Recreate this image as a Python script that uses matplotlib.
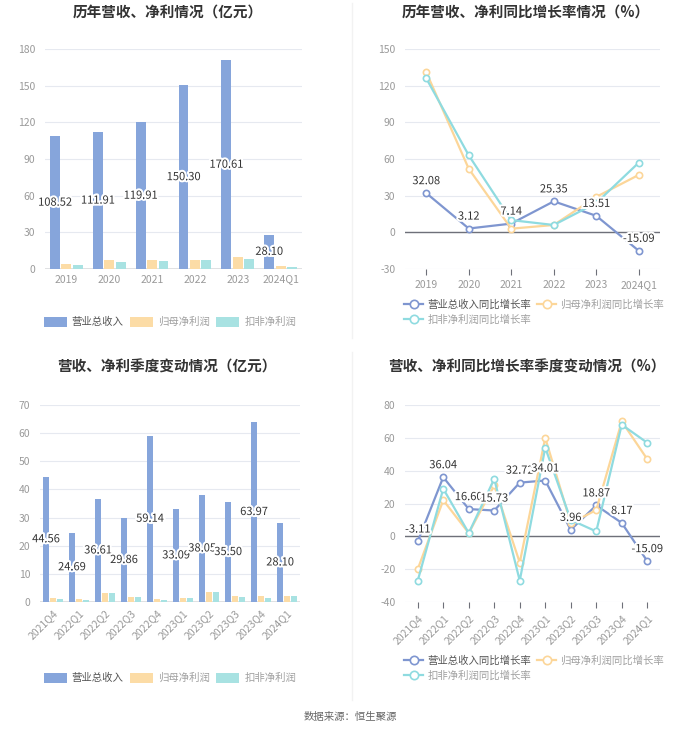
import numpy as np
import matplotlib
matplotlib.use('Agg')
import matplotlib.pyplot as plt
import matplotlib.patheffects as pe
from matplotlib.lines import Line2D
from matplotlib.patches import Patch

plt.rcParams['font.family'] = ['Noto Sans CJK SC', 'DejaVu Sans']
plt.rcParams['axes.unicode_minus'] = False

# ---- data ----
years = ['2019', '2020', '2021', '2022', '2023', '2024Q1']
rev_y = [108.52, 111.91, 119.91, 150.30, 170.61, 28.10]
np_y = [4.5, 7.0, 7.3, 7.7, 9.8, 2.2]
npd_y = [3.6, 5.9, 6.5, 7.2, 8.5, 1.9]

rev_yg = [32.08, 3.12, 7.14, 25.35, 13.51, -15.09]
np_yg = [131, 52, 3, 6, 29, 47]
npd_yg = [126, 63, 10, 6, 24, 57]

quarters = ['2021Q4', '2022Q1', '2022Q2', '2022Q3', '2022Q4',
            '2023Q1', '2023Q2', '2023Q3', '2023Q4', '2024Q1']
rev_q = [44.56, 24.69, 36.61, 29.86, 59.14, 33.09, 38.05, 35.50, 63.97, 28.10]
np_q = [1.4, 0.9, 3.3, 1.9, 1.1, 1.4, 3.7, 2.1, 2.2, 2.2]
npd_q = [1.1, 0.8, 3.3, 1.8, 0.7, 1.3, 3.7, 1.8, 1.3, 2.1]

rev_qg = [-3.11, 36.04, 16.60, 15.73, 32.72, 34.01, 3.96, 18.87, 8.17, -15.09]
np_qg = [-20, 22, 2, 31, -16, 60, 8, 16, 70, 47]
npd_qg = [-27, 29, 2, 35, -27, 54, 10, 3, 68, 57]

bar_names = ['营业总收入', '归母净利润', '扣非净利润']
line_names = ['营业总收入同比增长率', '归母净利润同比增长率', '扣非净利润同比增长率']

C_REV = '#86a5db'; C_NP = '#fcdca6'; C_NPD = '#a8e2e2'
L_REV = '#7f96d0'; L_NP = '#fcd699'; L_NPD = '#8fdbe0'
TXT = '#333333'; TICK = '#9a9a9a'; GRID = '#e6e9f0'; AXIS = '#6e7079'

W, H = 700, 734
fig = plt.figure(figsize=(W / 100, H / 100), dpi=100)
fig.patch.set_facecolor('white')


def px_axes(x0, y0, x1, y1):
    return fig.add_axes([x0 / W, 1 - y1 / H, (x1 - x0) / W, (y1 - y0) / H])


def style(ax, ylim, step, cats, rotate=False, ticks=False):
    ax.set_ylim(*ylim)
    ax.set_yticks(np.arange(ylim[0], ylim[1] + 1, step))
    ax.set_xlim(-0.5, len(cats) - 0.5)
    ax.set_xticks(range(len(cats)))
    for s in ['top', 'right', 'left', 'bottom']:
        ax.spines[s].set_visible(False)
    ax.axhline(0, color=AXIS, lw=1, zorder=2)
    ax.grid(axis='y', color=GRID, lw=0.8)
    ax.set_axisbelow(True)
    ax.tick_params(axis='y', length=0, labelsize=7.5, labelcolor=TICK, pad=7)
    ax.tick_params(axis='x', length=4 if ticks else 0, color=AXIS, labelsize=7.5,
                   labelcolor=TICK, pad=4)
    if rotate:
        ax.set_xticklabels(cats, rotation=45, ha='right', rotation_mode='anchor')
    else:
        ax.set_xticklabels(cats)


stroke = [pe.withStroke(linewidth=3, foreground='white')]


def bars(ax, cats, a, b, c):
    x = np.arange(len(cats))
    off, bw = 0.265, 0.23
    ax.bar(x - off, a, bw, color=C_REV, zorder=3)
    ax.bar(x, b, bw, color=C_NP, zorder=3)
    ax.bar(x + off, c, bw, color=C_NPD, zorder=3)
    for xi, v in zip(x, a):
        ax.text(xi - off, v / 2, f'{v:.2f}', ha='center', va='center', fontsize=8,
                color=TXT, path_effects=stroke, zorder=5)


def lines(ax, cats, a, b, c):
    x = np.arange(len(cats))
    for vals, col in [(a, L_REV), (b, L_NP), (c, L_NPD)]:
        ax.plot(x, vals, color=col, lw=1.6, marker='o', ms=4.5, mfc='white',
                mec=col, mew=1.2, zorder=3)
    for xi, v in zip(x, a):
        ax.annotate(f'{v:.2f}', (xi, v), xytext=(0, 5), textcoords='offset points',
                    ha='center', va='bottom', fontsize=8, color=TXT,
                    path_effects=stroke, zorder=5)


ax1 = px_axes(45, 49, 302, 269)
bars(ax1, years, rev_y, np_y, npd_y)
style(ax1, (0, 180), 30, years)

ax2 = px_axes(405, 49, 660, 269)
lines(ax2, years, rev_yg, np_yg, npd_yg)
style(ax2, (-30, 150), 30, years, ticks=True)

ax3 = px_axes(40, 405, 300, 602)
bars(ax3, quarters, rev_q, np_q, npd_q)
style(ax3, (0, 70), 10, quarters, rotate=True)

ax4 = px_axes(405, 405, 660, 602)
lines(ax4, quarters, rev_qg, np_qg, npd_qg)
style(ax4, (-40, 80), 20, quarters, rotate=True, ticks=True)

# titles
for x, y, t in [(168, 13, '历年营收、净利情况（亿元）'),
                (526, 13, '历年营收、净利同比增长率情况（%）'),
                (167, 367, '营收、净利季度变动情况（亿元）'),
                (527, 367, '营收、净利同比增长率季度变动情况（%）')]:
    fig.text(x / W, 1 - y / H, t, ha='center', va='center', fontsize=10.5,
             fontweight='bold', color=TXT)

# separators
fig.add_artist(Line2D([352 / W] * 2, [1 - 3 / H, 1 - 338 / H], color='#f2f2f2', lw=1))
fig.add_artist(Line2D([352 / W] * 2, [1 - 352 / H, 1 - 700 / H], color='#f2f2f2', lw=1))

# legends
bar_handles = [Patch(facecolor=col, edgecolor='none') for col in (C_REV, C_NP, C_NPD)]
line_handles = [Line2D([], [], color=col, lw=1.6, marker='o', ms=6, mfc='white', mec=col, mew=1.2)
                for col in (L_REV, L_NP, L_NPD)]


def bar_legend(cx, cy):
    lg = fig.legend(bar_handles, bar_names, loc='center', bbox_to_anchor=(cx / W, 1 - cy / H),
                    ncol=3, frameon=False, fontsize=7.5, handlelength=2.2, handleheight=1.1,
                    columnspacing=0.6, handletextpad=0.5)
    for i, t in enumerate(lg.get_texts()):
        t.set_color('#555555' if i == 0 else '#a0a0a0')


def line_legend(x0, cy):
    order = [0, 2, 1]
    lg = fig.legend([line_handles[i] for i in order], [line_names[i] for i in order],
                    loc='center left', bbox_to_anchor=(x0 / W, 1 - cy / H), ncol=2,
                    frameon=False, fontsize=7.5, handlelength=1.8, columnspacing=0.6,
                    handletextpad=0.4, labelspacing=0.5, borderpad=0.2)
    for i, t in zip(order, lg.get_texts()):
        t.set_color('#555555' if i == 0 else '#a0a0a0')


bar_legend(170, 322)
line_legend(397, 312)
bar_legend(170, 678)
line_legend(397, 668)

fig.text(350 / W, 1 - 717 / H, '数据来源：恒生聚源', ha='center', va='center',
         fontsize=7.5, color='#666666')

fig.savefig('out.png', dpi=100, facecolor='white')
